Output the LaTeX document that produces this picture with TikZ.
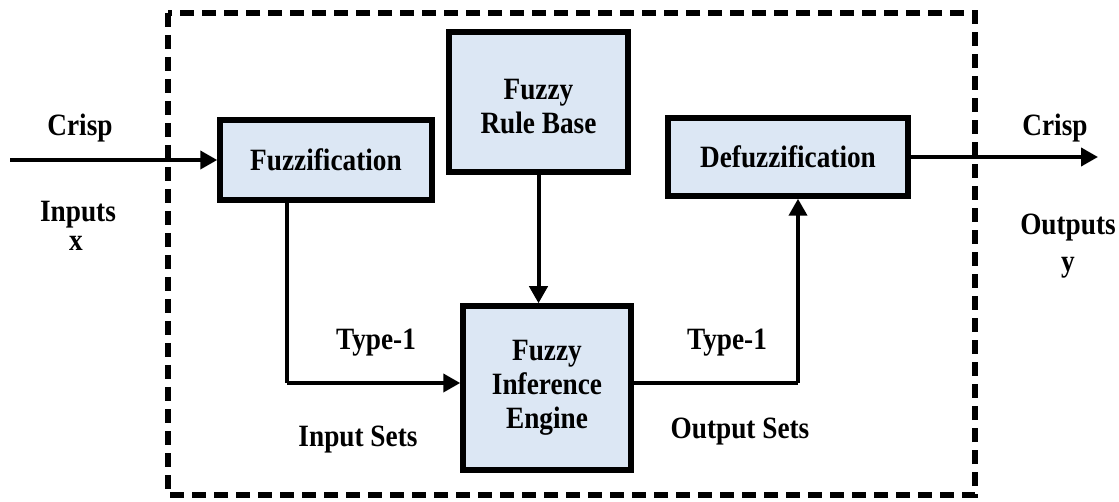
\documentclass[tikz,border=0pt]{standalone}
\usepackage{fontspec}
\setmainfont{Liberation Serif}[FakeStretch=0.88]
\usetikzlibrary{arrows.meta}
\definecolor{boxfill}{RGB}{220,231,244}
\tikzset{
  blk/.style={draw=black, line width=5.5pt, fill=boxfill, align=center, font=\bfseries\fontsize{31}{34}\selectfont, inner sep=0pt},
  lbl/.style={font=\bfseries\fontsize{31}{34}\selectfont, align=center, inner sep=0pt},
  conn/.style={line width=4pt, -{Triangle[length=17pt,width=18pt]}},
  plain/.style={line width=4pt},
}
\begin{document}
\begin{tikzpicture}[x=1pt,y=-1pt]
\useasboundingbox (0,0) rectangle (1119,502);
\draw[line width=5.5pt, dash pattern=on 14pt off 8pt] (168,13) rectangle (975,495);
\node[blk, minimum width=212pt, minimum height=80pt] (fuz) at (326,160) {Fuzzification};
\node[blk, minimum width=179pt, minimum height=140pt] (rule) at (538.5,102) {\rule{0pt}{30pt}Fuzzy\\Rule Base};
\node[blk, minimum width=240pt, minimum height=78pt] (def) at (788,157) {Defuzzification};
\node[blk, minimum width=168pt, minimum height=164pt] (inf) at (547,388) {Fuzzy\\Inference\\Engine};
\coordinate (in) at (10,160);
\coordinate (out) at (1098,157);
\coordinate (c1) at (287,383);
\coordinate (c2) at (798,383);
\draw[conn] (in) -- (fuz.west);
\draw[conn] (def.east) -- (out);
\draw[conn] (rule.south) -- (rule.south |- inf.north);
\draw[plain] (fuz.south -| c1) -- (c1);
\draw[conn] (c1) -- (c1 -| inf.west);
\draw[plain] (c2 -| inf.east) -- (c2);
\draw[conn] (c2) -- (c2 |- def.south);
\node[lbl] (crispin) at (80,128) {Crisp};
\node[lbl] (inputs) at (78,215) {Inputs};
\node[lbl] (xx) at (76,243) {x};
\node[lbl] (crispout) at (1055,128) {Crisp};
\node[lbl] (outputs) at (1068,228) {Outputs};
\node[lbl] (yy) at (1068,268) {y};
\node[lbl] (t1a) at (376,343) {Type-1};
\node[lbl] (isets) at (358,440) {Input Sets};
\node[lbl] (t1b) at (727,343) {Type-1};
\node[lbl] (osets) at (740,432) {Output Sets};
\end{tikzpicture}
\end{document}
